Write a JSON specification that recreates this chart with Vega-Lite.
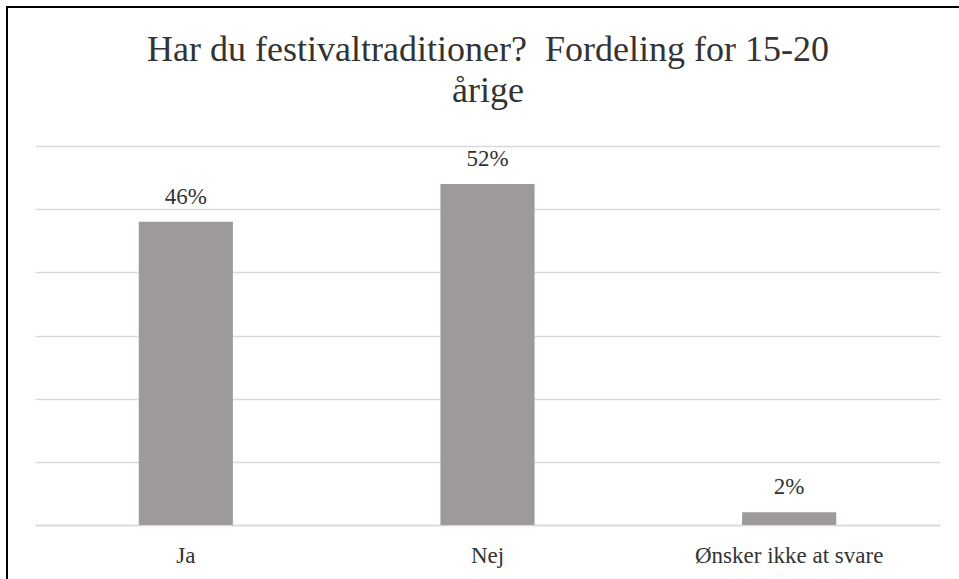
{
  "$schema": "https://vega.github.io/schema/vega-lite/v6.json",
  "autosize": "none",
  "width": 962,
  "height": 582,
  "padding": {"left": 7, "top": 7, "right": 0, "bottom": 0},
  "background": "white",
  "title": {
    "text": ["Har du festivaltraditioner?\u00a0 Fordeling for 15-20", "årige"],
    "font": "Liberation Serif, Times New Roman, serif",
    "fontSize": 36,
    "fontWeight": "normal",
    "color": "#333333",
    "lineHeight": 41,
    "anchor": "middle",
    "frame": "group",
    "baseline": "alphabetic",
    "offset": 0,
    "dy": 131
  },
  "data": {
    "values": [
      {"svar": "Ja", "antal": 48, "label": "46%"},
      {"svar": "Nej", "antal": 54, "label": "52%"},
      {"svar": "Ønsker ikke at svare", "antal": 2, "label": "2%"}
    ]
  },
  "encoding": {
    "x": {
      "field": "svar",
      "type": "nominal",
      "sort": null,
      "scale": {"type": "band", "range": [28, 933], "paddingInner": 0, "paddingOuter": 0},
      "axis": {
        "title": null,
        "labelAngle": 0,
        "labelFont": "Liberation Serif, Times New Roman, serif",
        "labelFontSize": 23,
        "labelColor": "#333333",
        "labelBaseline": "alphabetic",
        "labelPadding": 37,
        "labelLimit": 0,
        "ticks": false,
        "tickSize": 0,
        "domain": true,
        "domainColor": "#d9d9d9",
        "domainWidth": 1.5,
        "grid": false,
        "offset": -64
      }
    },
    "y": {
      "field": "antal",
      "type": "quantitative",
      "scale": {"domain": [0, 60], "range": [518, 139], "nice": false, "zero": true},
      "axis": {
        "title": null,
        "labels": false,
        "ticks": false,
        "domain": false,
        "grid": true,
        "gridColor": "#d9d9d9",
        "gridWidth": 1.5,
        "values": [0, 10, 20, 30, 40, 50, 60]
      }
    }
  },
  "layer": [
    {
      "mark": {"type": "bar", "color": "#9e9a99", "width": {"band": 0.312}}
    },
    {
      "mark": {
        "type": "text",
        "font": "Liberation Serif, Times New Roman, serif",
        "fontSize": 23,
        "color": "#333333",
        "baseline": "alphabetic",
        "dy": -18
      },
      "encoding": {"text": {"field": "label", "type": "nominal"}}
    }
  ],
  "config": {
    "font": "Liberation Serif, Times New Roman, serif",
    "view": {"stroke": "#000000", "strokeWidth": 2}
  }
}
